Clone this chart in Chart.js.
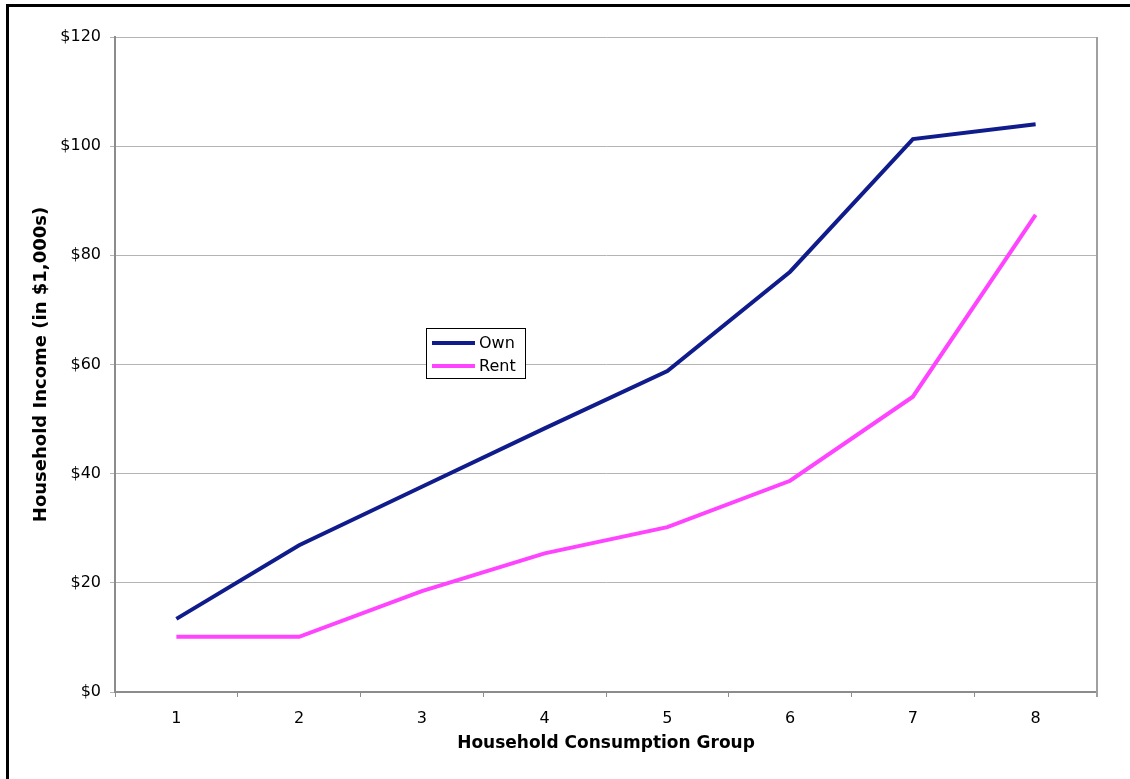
<!DOCTYPE html>
<html>
<head>
<meta charset="utf-8">
<script src="https://cdn.jsdelivr.net/npm/chart.js@4"></script>
<style>
  html, body { margin:0; padding:0; background:#fff; }
  #wrap { width:1130px; height:779px; position:relative; }
</style>
</head>
<body>
<div id="wrap"><canvas id="chart1" width="1130" height="779"></canvas></div>
<script>
// household income by consumption group
var groups = ["1","2","3","4","5","6","7","8"];
var ownIncome  = [13.4, 26.9, 37.6, 48.3, 58.8, 77.0, 101.3, 104.0];
var rentIncome = [10.1, 10.1, 18.5, 25.4, 30.2, 38.7, 54.1, 87.4];
var yTicks = [0, 20, 40, 60, 80, 100, 120];

var axisGray = "#8c8c8c";
var fontFam = "'DejaVu Sans', Verdana, sans-serif";

// outer frame (left + top edges) and the right side of the plot box
const framePlugin = {
  id: "frame",
  beforeDraw(chart){
    const ctx = chart.ctx;
    ctx.save();
    ctx.fillStyle = "#fff";
    ctx.fillRect(0,0,chart.width,chart.height);
    ctx.fillStyle = "#000";
    ctx.fillRect(6,4,3,chart.height-4);
    ctx.fillRect(6,4,chart.width-6,3);
    ctx.restore();
  },
  afterDraw(chart){
    const a = chart.chartArea, ctx = chart.ctx;
    ctx.save();
    ctx.strokeStyle = "#a0a0a0";
    ctx.lineWidth = 2;
    ctx.beginPath();
    ctx.moveTo(a.right, a.top); ctx.lineTo(a.right, a.bottom+5);
    ctx.stroke();
    ctx.restore();
  }
};

// legend box drawn inside the plot
const boxLegend = {
  id: "boxLegend",
  afterDatasetsDraw(chart){
    const ctx = chart.ctx;
    const x = 426, y = 328, w = 99, h = 50;
    ctx.save();
    ctx.fillStyle = "#fff";
    ctx.fillRect(x,y,w,h);
    ctx.strokeStyle = "#000";
    ctx.lineWidth = 1;
    ctx.strokeRect(x+0.5,y+0.5,w,h);
    ctx.font = "16px " + fontFam;
    ctx.textBaseline = "middle";
    chart.data.datasets.forEach(function(ds,i){
      const ly = y + 15 + i*23;
      ctx.strokeStyle = ds.borderColor;
      ctx.lineWidth = 4;
      ctx.beginPath(); ctx.moveTo(x+6,ly); ctx.lineTo(x+49,ly); ctx.stroke();
      ctx.fillStyle = "#000";
      ctx.fillText(ds.label, x+53, ly+1);
    });
    ctx.restore();
  }
};

new Chart(document.getElementById("chart1"), {
  type: "line",
  data: {
    labels: groups,
    datasets: [
      { label:"Own",  data: ownIncome,  borderColor:"#101c8c", borderWidth:4, pointRadius:0, tension:0 },
      { label:"Rent", data: rentIncome, borderColor:"#ff44ff", borderWidth:4, pointRadius:0, tension:0 }
    ]
  },
  plugins: [framePlugin, boxLegend],
  options: {
    responsive:false,
    animation:false,
    layout: { padding: { top:37, right:33, left:0, bottom:0 } },
    plugins: { legend:{display:false}, tooltip:{enabled:false} },
    scales: {
      x: {
        offset:true,
        grid: { offset:true, drawOnChartArea:false, drawTicks:true, tickLength:5, color:axisGray, lineWidth:1 },
        border: { color:axisGray, width:2 },
        ticks: { color:"#000", padding:12, font:{ family:fontFam, size:16 }, maxRotation:0 },
        title: { display:true, text:"Household Consumption Group", color:"#000",
                 font:{ family:fontFam, size:17, weight:"bold" }, padding:{ top:0, bottom:25 } },
        afterFit(scale){ scale.height = 87; }
      },
      y: {
        min:0, max:120,
        afterBuildTicks(scale){ scale.ticks = yTicks.map(v => ({ value:v })); },
        grid: { color:"#b4b4b4", lineWidth:1, tickLength:5, drawTicks:true },
        border: { color:axisGray, width:2 },
        ticks: { color:"#000", padding:9, font:{ family:fontFam, size:16 },
                 callback: v => "$" + v },
        title: { display:true, text:"Household Income (in $1,000s)", color:"#000",
                 font:{ family:fontFam, size:18, weight:"bold" }, padding:{ top:31, bottom:0 } },
        afterFit(scale){ scale.width = 115; }
      }
    }
  }
});
</script>
</body>
</html>
